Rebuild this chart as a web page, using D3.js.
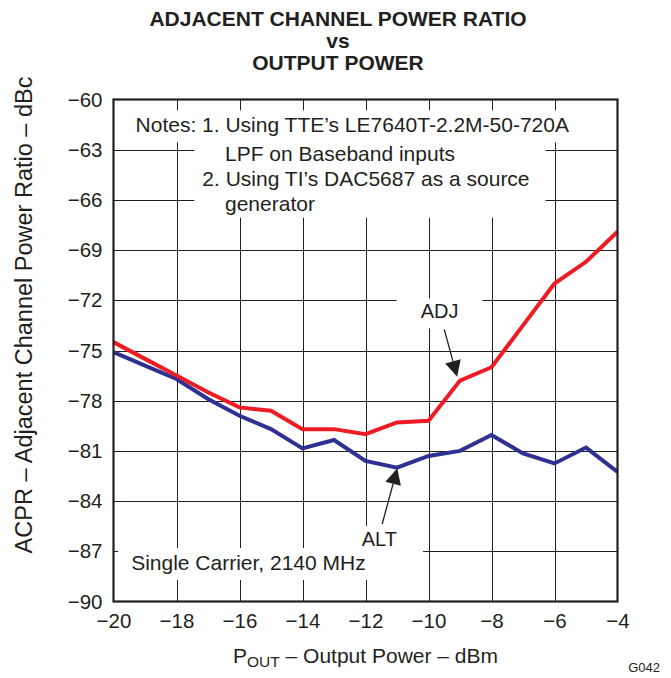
<!DOCTYPE html>
<html>
<head>
<meta charset="utf-8">
<script src="https://cdn.jsdelivr.net/npm/d3@7/dist/d3.min.js"></script>
<style>
  html, body { margin: 0; padding: 0; background: #fff; }
  svg { display: block; font-family: "Liberation Sans", Arial, Helvetica, sans-serif; }
</style>
</head>
<body>
<svg id="chart" width="671" height="678"></svg>
<script>
// Output power sweep, dBm
const outputPower = [-20, -19, -18, -17, -16, -15, -14, -13, -12, -11, -10, -9, -8, -7, -6, -5, -4];
// Adjacent-channel ACPR, dBc
const adjValues = [-74.5, -75.5, -76.5, -77.5, -78.4, -78.6, -79.7, -79.7, -80.0, -79.3, -79.2, -76.8, -76.0, -73.5, -71.0, -69.7, -67.9];
// Alternate-channel ACPR, dBc
const altValues = [-75.1, -75.9, -76.7, -77.9, -78.9, -79.7, -80.85, -80.35, -81.6, -82.0, -81.3, -81.0, -80.05, -81.15, -81.75, -80.8, -82.25];

const xTicks = [-20, -18, -16, -14, -12, -10, -8, -6, -4];
const yTicks = [-60, -63, -66, -69, -72, -75, -78, -81, -84, -87, -90];

const titleLines = ["ADJACENT CHANNEL POWER RATIO", "vs", "OUTPUT POWER"];
const noteLines = [
  "Notes: 1. Using TTE\u2019s LE7640T-2.2M-50-720A",
  "LPF on Baseband inputs",
  "2. Using TI\u2019s DAC5687 as a source",
  "generator"
];

const ink = "#231f20";
const svg = d3.select("#chart");
const plot = { left: 113.5, right: 617.5, top: 99.5, bottom: 601.5 };

const x = d3.scaleLinear().domain([-20, -4]).range([plot.left, plot.right]);
const y = d3.scaleLinear().domain([-60, -90]).range([plot.top, plot.bottom]);

// Title
svg.append("g").selectAll("text").data(titleLines).join("text")
  .attr("x", 338).attr("y", (d, i) => [26, 47.5, 70][i])
  .attr("text-anchor", "middle")
  .attr("font-weight", "bold").attr("font-size", 21)
  .attr("fill", ink).text(d => d);

// Grid
const grid = svg.append("g").attr("stroke", ink).attr("stroke-width", 1);
grid.selectAll("line.v").data(xTicks.slice(1, -1)).join("line")
  .attr("class", "v")
  .attr("x1", d => Math.round(x(d)) + 0.5).attr("x2", d => Math.round(x(d)) + 0.5)
  .attr("y1", plot.top).attr("y2", plot.bottom);
grid.selectAll("line.h").data(yTicks.slice(1, -1)).join("line")
  .attr("class", "h")
  .attr("y1", d => Math.round(y(d)) + 0.5).attr("y2", d => Math.round(y(d)) + 0.5)
  .attr("x1", plot.left).attr("x2", plot.right);

// Axes: labels only, ticks are the grid
const xAxis = d3.axisBottom(x).tickValues(xTicks).tickSize(0).tickPadding(10)
  .tickFormat(d3.format("d"));
const yAxis = d3.axisLeft(y).tickValues(yTicks).tickSize(0).tickPadding(10)
  .tickFormat(d3.format("d"));
const gx = svg.append("g").attr("transform", `translate(0,${plot.bottom})`).call(xAxis);
const gy = svg.append("g").attr("transform", `translate(${plot.left},0)`).call(yAxis);
[gx, gy].forEach(g => {
  g.select(".domain").remove();
  g.selectAll("text").attr("font-size", 20.5).attr("fill", ink)
    .attr("font-family", "'Liberation Sans', Arial, sans-serif");
});
gx.selectAll("text").attr("dy", "0.71em").attr("y", 12);
gy.selectAll("text").attr("x", -11);

// Text blocks inside the plot sit on white boxes that break the grid
const annot = svg.append("g").attr("font-size", 21).attr("fill", ink);

function boxedText(items, pad, size) {
  const g = annot.append("g");
  if (size) g.attr("font-size", size);
  const rect = g.append("rect").attr("fill", "#fff");
  g.selectAll("text").data(items).join("text")
    .attr("x", d => d.x).attr("y", d => d.y).text(d => d.t);
  const b = g.node().getBBox();
  rect.attr("x", b.x - pad[3]).attr("y", b.y - pad[0])
    .attr("width", b.width + pad[1] + pad[3]).attr("height", b.height + pad[0] + pad[2]);
  return g;
}

boxedText([{ t: noteLines[0], x: x(-19.3), y: y(-61.96) }], [3, 5, 6, 7]);
boxedText([
  { t: noteLines[1], x: x(-16.46), y: y(-63.66) },
  { t: noteLines[2], x: x(-17.18), y: y(-65.15) },
  { t: noteLines[3], x: x(-16.46), y: y(-66.65) }
], [1, 16, 3, 8]);
boxedText([{ t: "ADJ", x: x(-10.25), y: y(-73.08) }], [2, 24, 6, 24], 20);
boxedText([{ t: "ALT", x: x(-12.12), y: y(-86.69) }], [2, 26, 8, 10], 20);
boxedText([{ t: "Single Carrier, 2140 MHz", x: x(-19.44), y: y(-88.12) }], [3, 8, 6, 13]);

// Series
const line = d3.line().x(d => x(d[0])).y(d => y(d[1]));
svg.append("path").datum(outputPower.map((p, i) => [p, altValues[i]]))
  .attr("d", line).attr("fill", "none").attr("stroke", "#2e3192")
  .attr("stroke-width", 4).attr("stroke-linejoin", "miter");
svg.append("path").datum(outputPower.map((p, i) => [p, adjValues[i]]))
  .attr("d", line).attr("fill", "none").attr("stroke", "#ed1c24")
  .attr("stroke-width", 4).attr("stroke-linejoin", "miter");

// Callout arrows (tail -> tip, data coordinates)
const arrows = [
  { from: [-9.5, -73.74], to: [-9.09, -76.57] },
  { from: [-11.47, -85.37], to: [-10.99, -82.04] }
];
const ag = svg.append("g");
arrows.forEach(a => {
  const x0 = x(a.from[0]), y0 = y(a.from[1]);
  const x1 = x(a.to[0]), y1 = y(a.to[1]);
  const ang = Math.atan2(y1 - y0, x1 - x0);
  const len = 16, half = 8;
  const bx = x1 - len * Math.cos(ang), by = y1 - len * Math.sin(ang);
  ag.append("line").attr("x1", x0).attr("y1", y0).attr("x2", bx).attr("y2", by)
    .attr("stroke", ink).attr("stroke-width", 1.3);
  const px = -Math.sin(ang) * half, py = Math.cos(ang) * half;
  ag.append("path")
    .attr("d", `M${x1},${y1}L${bx + px},${by + py}L${bx - px},${by - py}Z`)
    .attr("fill", ink);
});

// Plot frame
svg.append("rect")
  .attr("x", plot.left).attr("y", plot.top)
  .attr("width", plot.right - plot.left).attr("height", plot.bottom - plot.top)
  .attr("fill", "none").attr("stroke", ink).attr("stroke-width", 2.2);

// Axis titles
svg.append("text")
  .attr("transform", "translate(32,315) rotate(-90)")
  .attr("text-anchor", "middle").attr("font-size", 23.5).attr("fill", ink)
  .text("ACPR \u2013 Adjacent Channel Power Ratio \u2013 dBc");

const xt = svg.append("text")
  .attr("x", (plot.left + plot.right) / 2).attr("y", 663)
  .attr("text-anchor", "middle").attr("font-size", 21).attr("fill", ink);
xt.append("tspan").text("P");
xt.append("tspan").attr("font-size", 15.5).attr("dy", 4).text("OUT");
xt.append("tspan").attr("dy", -4).text(" \u2013 Output Power \u2013 dBm");

svg.append("text").attr("x", 660).attr("y", 672).attr("text-anchor", "end")
  .attr("font-size", 13).attr("fill", ink).text("G042");
</script>
</body>
</html>
